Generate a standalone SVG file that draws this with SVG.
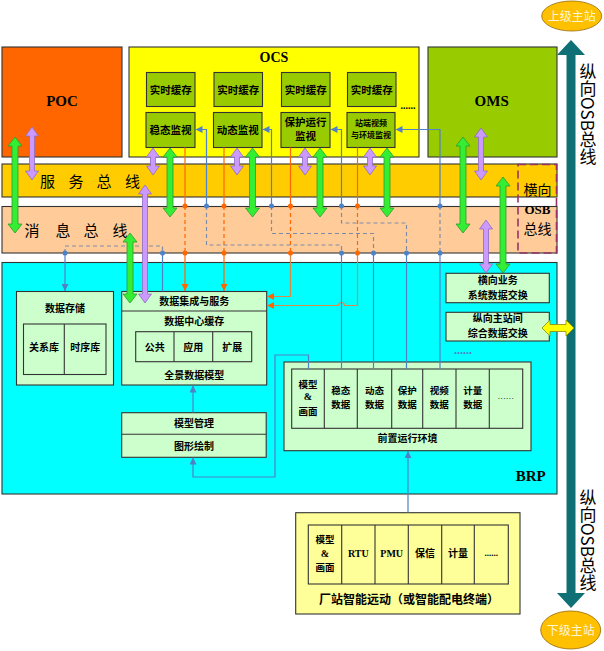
<svg xmlns="http://www.w3.org/2000/svg" width="604" height="651" viewBox="0 0 604 651">
<style>
text{font-family:"Noto Sans CJK SC",sans-serif;font-weight:bold;fill:#000;text-anchor:middle;font-size:10px}
.lat{font-family:"Liberation Serif","Noto Sans CJK SC",serif}
.big{font-size:15px}
.bus{font-size:15px;font-weight:normal}
.sm{font-size:9.5px}
.box{stroke:#333;stroke-width:1.1}
.g{fill:#99CC00}
.lg{fill:#CCFFCC}
.ga{fill:#33EE33;stroke:#2E9A2E;stroke-width:0.8}
.pa{fill:#CC99FF;stroke:#8E6CC0;stroke-width:0.8}
.bl{fill:none;stroke:#4F81C7;stroke-width:1.2}
.bd{fill:none;stroke:#7F8CA8;stroke-width:1.2;stroke-dasharray:4 3}
.or{fill:none;stroke:#FF6600;stroke-width:1.2}
.og{fill:none;stroke:#D9894A;stroke-width:1.2}
.od{fill:none;stroke:#FF6600;stroke-width:1.2;stroke-dasharray:4 3}
.db{fill:#4F81C7}
.do{fill:#FF6600}
.vt{font-family:"Noto Sans CJK SC",sans-serif;font-size:17px;font-weight:normal;writing-mode:vertical-rl;text-anchor:start}
</style>
<defs>
<marker id="mb" viewBox="0 0 10 10" refX="10" refY="5" markerWidth="7" markerHeight="7" orient="auto" markerUnits="userSpaceOnUse"><path d="M0,0 L10,5 L0,10 z" fill="#4F81C7"/></marker>
<marker id="mo" viewBox="0 0 10 10" refX="10" refY="5" markerWidth="7" markerHeight="7" orient="auto" markerUnits="userSpaceOnUse"><path d="M0,0 L10,5 L0,10 z" fill="#FF6600"/></marker>
</defs>
<rect width="604" height="651" fill="#fff"/>

<g id="poc">
<rect class="box" x="2" y="47" width="120" height="110" fill="#FF6600" stroke="#663300"/>
<text class="lat big" x="62" y="106">POC</text>
</g>

<g id="ocs">
<rect class="box" x="129" y="47" width="290" height="110" fill="#FFFF00"/>
<text class="lat" x="274" y="61.5" style="font-size:14px">OCS</text>
<rect class="box g" x="146.5" y="72.5" width="48.5" height="34"/>
<rect class="box g" x="214" y="72.5" width="48.5" height="34"/>
<rect class="box g" x="281.5" y="72.5" width="48.5" height="34"/>
<rect class="box g" x="347.5" y="72.5" width="48.5" height="34"/>
<text x="170.7" y="93.5" style="font-size:10.5px">实时缓存</text>
<text x="238.2" y="93.5" style="font-size:10.5px">实时缓存</text>
<text x="305.7" y="93.5" style="font-size:10.5px">实时缓存</text>
<text x="371.7" y="93.5" style="font-size:10.5px">实时缓存</text>
<rect class="box g" x="146" y="112.5" width="49" height="35"/>
<rect class="box g" x="213.5" y="112.5" width="48.5" height="35"/>
<rect class="box g" x="281" y="112.5" width="49" height="35"/>
<rect class="box g" x="347" y="112.5" width="48" height="35"/>
<text x="170.5" y="134" style="font-size:10.5px">稳态监视</text>
<text x="237.7" y="134" style="font-size:10.5px">动态监视</text>
<text x="305.5" y="125.5" style="font-size:10.5px">保护运行</text>
<text x="305.5" y="140" style="font-size:10.5px">监视</text>
<text x="371" y="126" style="font-size:8px">站端视频</text>
<text x="371" y="138" style="font-size:8px">与环境监视</text>
<text class="lat" x="408" y="109" style="font-size:10px">......</text>
</g>

<g id="oms">
<rect class="box g" x="428" y="47" width="129" height="110"/>
<text class="lat big" x="491.7" y="106">OMS</text>
</g>

<g id="service-bus">
<rect class="box" x="2" y="164" width="555" height="33" fill="#FFCC00"/>
<text class="bus" x="47.5 76 104 132.5" y="187">服务总线</text>
</g>

<g id="message-bus">
<rect class="box" x="2" y="206.5" width="555" height="46.5" fill="#FFCC99"/>
<text class="bus" x="32 63 91 120" y="236">消息总线</text>
</g>

<g id="osb-h">
<rect x="518" y="164.5" width="38.5" height="88.5" fill="none" stroke="#993366" stroke-width="1.6" stroke-dasharray="8 4"/>
<text x="537.5" y="195" style="font-size:14px;font-weight:normal">横向</text>
<text class="lat" x="537.5" y="214" style="font-size:13px">OSB</text>
<text x="537.5" y="234" style="font-size:14px;font-weight:normal">总线</text>
</g>

<g id="brp">
<rect class="box" x="2" y="262.5" width="555" height="231.5" fill="#00FFFF"/>
<text class="lat big" x="530.7" y="481">BRP</text>
</g>

<g id="data-storage">
<rect class="box lg" x="16.5" y="291.5" width="97" height="93.5"/>
<text x="65" y="312">数据存储</text>
<rect class="box lg" x="23.5" y="324" width="82.5" height="50.5"/>
<line x1="64.3" y1="324" x2="64.3" y2="374.5" stroke="#333" stroke-width="1.1"/>
<text x="44" y="350.5">关系库</text>
<text x="85.2" y="350.5">时序库</text>
</g>

<g id="data-integration">
<rect class="box lg" x="121.7" y="291.5" width="145" height="93.5"/>
<line x1="121.7" y1="311" x2="266.7" y2="311" stroke="#333" stroke-width="1.1"/>
<text x="194.2" y="304.5">数据集成与服务</text>
<text x="194.2" y="324.5">数据中心缓存</text>
<rect class="box lg" x="135.7" y="331.7" width="116" height="30"/>
<line x1="174" y1="331.7" x2="174" y2="361.7" stroke="#333" stroke-width="1.1"/>
<line x1="212.7" y1="331.7" x2="212.7" y2="361.7" stroke="#333" stroke-width="1.1"/>
<text x="154.8" y="350.5">公共</text>
<text x="193.3" y="350.5">应用</text>
<text x="232.2" y="350.5">扩展</text>
<text x="194.2" y="378.7">全景数据模型</text>
</g>

<g id="model-mgmt">
<rect class="box lg" x="121.7" y="412.7" width="144.5" height="44.6"/>
<line x1="121.7" y1="434.3" x2="266.2" y2="434.3" stroke="#333" stroke-width="1.1"/>
<text x="194" y="427.3">模型管理</text>
<text x="194" y="449.6">图形绘制</text>
</g>

<g id="frontend">
<rect class="box lg" x="284" y="362" width="247" height="88.7"/>
<rect class="box lg" x="291.7" y="369" width="231" height="59.3"/>
<g stroke="#333" stroke-width="1.1">
<line x1="324.3" y1="369" x2="324.3" y2="428.3"/>
<line x1="357.3" y1="369" x2="357.3" y2="428.3"/>
<line x1="391.7" y1="369" x2="391.7" y2="428.3"/>
<line x1="422.7" y1="369" x2="422.7" y2="428.3"/>
<line x1="456" y1="369" x2="456" y2="428.3"/>
<line x1="489.3" y1="369" x2="489.3" y2="428.3"/>
</g>
<text x="308" y="388" class="sm">模型</text>
<text x="308" y="400" class="lat">&amp;</text>
<text x="308" y="414.5" class="sm">画面</text>
<text x="340.8" y="394" class="sm">稳态</text><text x="340.8" y="407.5" class="sm">数据</text>
<text x="374.5" y="394" class="sm">动态</text><text x="374.5" y="407.5" class="sm">数据</text>
<text x="407.2" y="394" class="sm">保护</text><text x="407.2" y="407.5" class="sm">数据</text>
<text x="439.3" y="394" class="sm">视频</text><text x="439.3" y="407.5" class="sm">数据</text>
<text x="472.7" y="394" class="sm">计量</text><text x="472.7" y="407.5" class="sm">数据</text>
<text x="506" y="399" class="lat" style="font-weight:normal;font-size:9px;letter-spacing:0.5px">......</text>
<text x="407.5" y="441.7">前置运行环境</text>
</g>

<g id="h-exchange">
<rect class="box lg" x="446" y="273.3" width="103.3" height="29.4"/>
<text x="497.7" y="283.7">横向业务</text>
<text x="497.7" y="298.7">系统数据交换</text>
</g>

<g id="v-exchange">
<rect class="box lg" x="446" y="312.3" width="103.3" height="28.7"/>
<text x="497.7" y="322">纵向主站间</text>
<text x="497.7" y="337">综合数据交换</text>
</g>

<text class="lat" x="463" y="354" style="fill:#4F81C7;font-size:12px">......</text>

<g id="station">
<rect class="box" x="295.7" y="512.7" width="224.3" height="101.3" fill="#FFFF99"/>
<rect class="box" x="308.3" y="525" width="200" height="59" fill="#FFFF99"/>
<g stroke="#333" stroke-width="1.1">
<line x1="341.7" y1="525" x2="341.7" y2="584"/>
<line x1="375" y1="525" x2="375" y2="584"/>
<line x1="408.3" y1="525" x2="408.3" y2="584"/>
<line x1="441.7" y1="525" x2="441.7" y2="584"/>
<line x1="474.3" y1="525" x2="474.3" y2="584"/>
</g>
<text x="325" y="543" class="sm">模型</text>
<text x="325" y="557" class="lat">&amp;</text>
<text x="325" y="571" class="sm">画面</text>
<text x="358.3" y="557" class="lat">RTU</text>
<text x="391.7" y="557" class="lat">PMU</text>
<text x="425" y="557">保信</text>
<text x="458" y="557">计量</text>
<text x="491.3" y="556" class="lat" style="font-size:9px">......</text>
<text x="409" y="603.5" style="font-size:12px">厂站智能远动（或智能配电终端）</text>
</g>

<g id="osb-v">
<polygon points="571,40 585,55 575.5,55 575.5,593 585,593 571,608 557,593 566.5,593 566.5,55 557,55" fill="#0E7075"/>
<text class="vt" x="588" y="63">纵向OSB总线</text>
<text class="vt" x="588" y="489">纵向OSB总线</text>
</g>

<g id="upper-station">
<ellipse cx="571.7" cy="16" rx="30" ry="15" fill="#FFC000" stroke="#996600" stroke-width="0.8"/>
<text x="571.7" y="20.5" style="font-size:12px;font-weight:normal;fill:#FFF6D8">上级主站</text>
</g>

<g id="lower-station">
<ellipse cx="570.7" cy="630" rx="30" ry="19" fill="#FFC000" stroke="#996600" stroke-width="0.8"/>
<text x="570.7" y="634.5" style="font-size:12px;font-weight:normal;fill:#FFF6D8">下级主站</text>
</g>

<g id="connectors">
<path class="or" d="M185,147.5 V206"/>
<path class="od" d="M185,206 V253"/>
<path class="or" d="M185,253 V291" marker-end="url(#mo)"/>
<path class="or" d="M224,147.5 V206"/>
<path class="od" d="M224,206 V253"/>
<path class="or" d="M224,253 V291" marker-end="url(#mo)"/>
<path class="or" d="M290.5,147.5 V206"/>
<path class="od" d="M290.5,206 V253"/>
<path class="og" d="M290.5,253 V296.5 H267" marker-end="url(#mo)"/>
<path class="or" d="M357.5,147.5 V206"/>
<path class="od" d="M357.5,206 V253"/>
<path class="og" d="M357.5,253 V305.5 H344.5 A3,3 0 0 0 338.5,305.5 H267" marker-end="url(#mo)"/>
<path class="bl" d="M206.5,206 V129.5 H195.5" marker-end="url(#mb)"/>
<path class="bl" d="M271.5,206 V129.5 H262.5" marker-end="url(#mb)"/>
<path class="bl" d="M341.5,206 V129.5 H330.5" marker-end="url(#mb)"/>
<path class="bl" d="M440,206 V129.5 H395.5" marker-end="url(#mb)"/>
<path class="bd" d="M206.5,206 V245 H341.5 V253"/>
<path class="bd" d="M271.5,206 V233.5 H373.5 V253"/>
<path class="bd" d="M341.5,206 V223 H406.5 V253"/>
<path class="bd" d="M440,206 V253"/>
<path class="bd" d="M65,253 V246 H162.5 V253"/>
<path class="bl" d="M341.5,253 V369"/>
<path class="bl" d="M373.5,253 V369"/>
<path class="bl" d="M406.5,253 V369"/>
<path class="bl" d="M440,253 V369"/>
<path class="bl" d="M65,253 V291" marker-end="url(#mb)"/>
<path class="bl" d="M162.5,253 V291.5"/>
<path class="bl" d="M193,412.5 V385.5" marker-end="url(#mb)"/>
<path class="bl" d="M308.5,369 V355 H275 V477 H193 V457.5" marker-end="url(#mb)"/>
<path class="bl" d="M408,512.5 V451" marker-end="url(#mb)"/>
<g class="do">
<circle cx="185" cy="206" r="2.5"/><circle cx="185" cy="253" r="2.5"/>
<circle cx="224" cy="206" r="2.5"/><circle cx="224" cy="253" r="2.5"/>
<circle cx="290.5" cy="206" r="2.5"/><circle cx="290.5" cy="253" r="2.5"/>
<circle cx="357.5" cy="206" r="2.5"/><circle cx="357.5" cy="253" r="2.5"/>
</g>
<g class="db">
<circle cx="206.5" cy="206" r="2.5"/><circle cx="271.5" cy="206" r="2.5"/>
<circle cx="341.5" cy="206" r="2.5"/><circle cx="440" cy="206" r="2.5"/>
<circle cx="341.5" cy="253" r="2.5"/><circle cx="373.5" cy="253" r="2.5"/>
<circle cx="406.5" cy="253" r="2.5"/><circle cx="440" cy="253" r="2.5"/>
<circle cx="65" cy="253" r="2.5"/><circle cx="162.5" cy="253" r="2.5"/>
</g>
<polygon class="ga" points="15,137 22,146 18,146 18,224 22,224 15,233 8,224 12,224 12,146 8,146"/>
<polygon class="ga" points="170,148 177,157 173,157 173,208 177,208 170,217 163,208 167,208 167,157 163,157"/>
<polygon class="ga" points="252.5,148 259.5,157 255.5,157 255.5,208 259.5,208 252.5,217 245.5,208 249.5,208 249.5,157 245.5,157"/>
<polygon class="ga" points="320,148 327,157 323,157 323,208 327,208 320,217 313,208 317,208 317,157 313,157"/>
<polygon class="ga" points="387,148 394,157 390,157 390,208 394,208 387,217 380,208 384,208 384,157 380,157"/>
<polygon class="ga" points="463,137 470,146 466,146 466,224 470,224 463,233 456,224 460,224 460,146 456,146"/>
<polygon class="ga" points="503,177 510,186 506,186 506,264 510,264 503,273 496,264 500,264 500,186 496,186"/>
<polygon class="ga" points="130,233 137,242 133,242 133,294 137,294 130,303 123,294 127,294 127,242 123,242"/>
<polygon class="pa" points="32,127 38.5,136 34.5,136 34.5,171 38.5,171 32,180 25.5,171 29.5,171 29.5,136 25.5,136"/>
<polygon class="pa" points="153,148 159.5,157 155.5,157 155.5,166 159.5,166 153,175 146.5,166 150.5,166 150.5,157 146.5,157"/>
<polygon class="pa" points="237,148 243.5,157 239.5,157 239.5,166 243.5,166 237,175 230.5,166 234.5,166 234.5,157 230.5,157"/>
<polygon class="pa" points="305,148 311.5,157 307.5,157 307.5,166 311.5,166 305,175 298.5,166 302.5,166 302.5,157 298.5,157"/>
<polygon class="pa" points="370,148 376.5,157 372.5,157 372.5,166 376.5,166 370,175 363.5,166 367.5,166 367.5,157 363.5,157"/>
<polygon class="pa" points="481,128 487.5,137 483.5,137 483.5,171 487.5,171 481,180 474.5,171 478.5,171 478.5,137 474.5,137"/>
<polygon class="pa" points="486,220 492.5,229 488.5,229 488.5,264 492.5,264 486,273 479.5,264 483.5,264 483.5,229 479.5,229"/>
<polygon class="pa" points="145,185 151.5,194 147.5,194 147.5,294 151.5,294 145,303 138.5,294 142.5,294 142.5,194 138.5,194"/>
<polygon points="542,328 550,320 550,324.5 566,324.5 566,320 574,328 566,336 566,331.5 550,331.5 550,336" fill="#FFFF00" stroke="#8C8C00" stroke-width="0.8"/>
</g>
</svg>
